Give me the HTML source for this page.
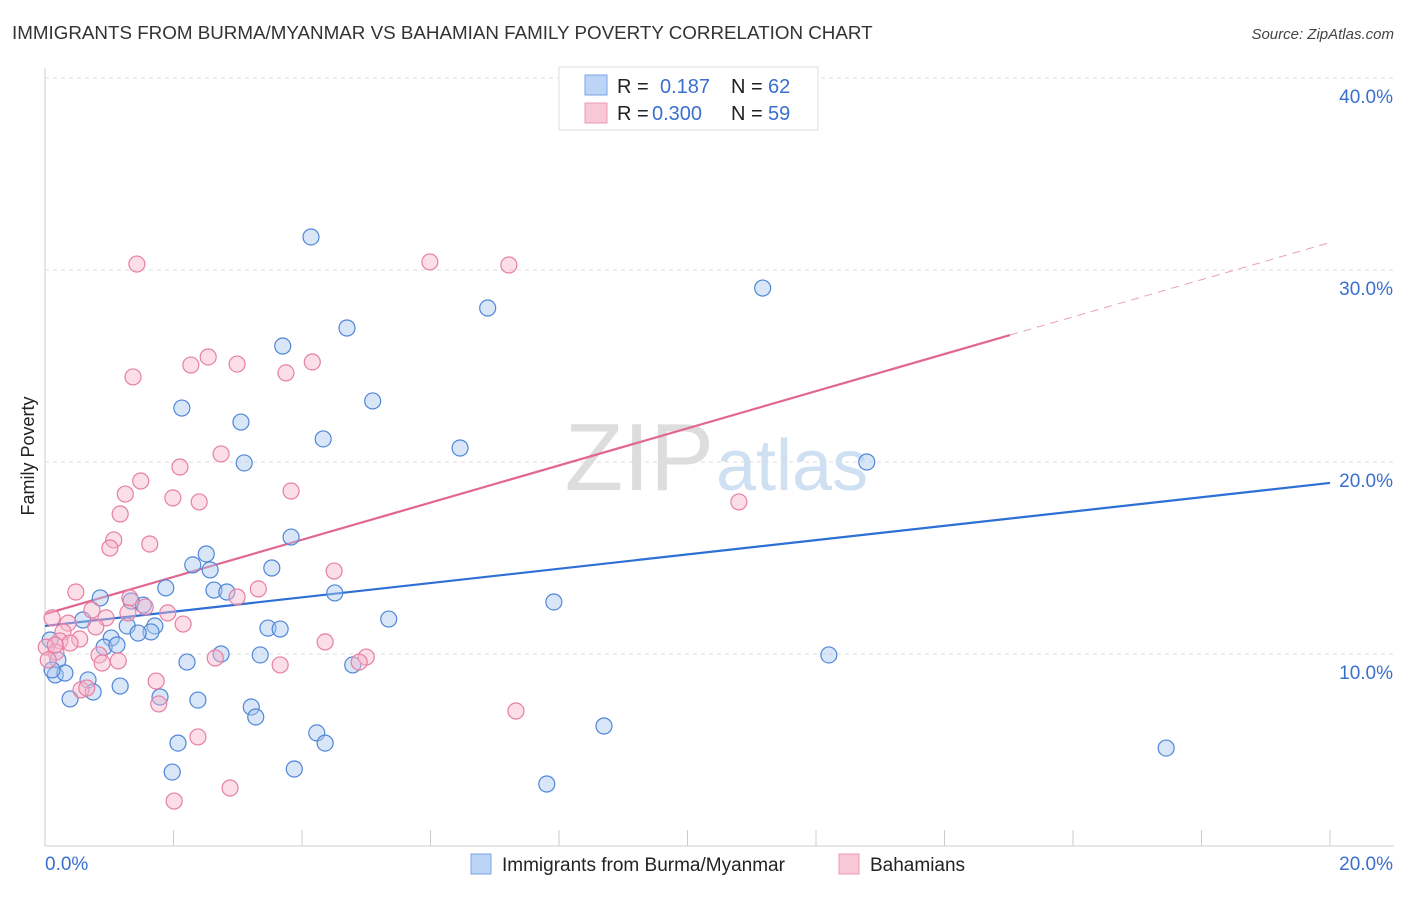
<!DOCTYPE html>
<html><head><meta charset="utf-8"><style>
body{margin:0;background:#fff;font-family:"Liberation Sans",sans-serif}
svg text{font-family:"Liberation Sans",sans-serif}
</style></head><body>
<svg id="chart" width="1406" height="892" xmlns="http://www.w3.org/2000/svg">
<text x="12" y="39" font-size="18.8" fill="#333">IMMIGRANTS FROM BURMA/MYANMAR VS BAHAMIAN FAMILY POVERTY CORRELATION CHART</text>
<text x="1394" y="39" font-size="15" fill="#444" text-anchor="end" font-style="italic">Source: ZipAtlas.com</text>
<text x="34" y="456" font-size="18" fill="#222" text-anchor="middle" transform="rotate(-90 34 456)">Family Poverty</text>
<text x="714" y="490" font-size="96" fill="#ddd" text-anchor="end" font-family="Liberation Serif">ZIP</text>
<text x="716" y="490" font-size="72" fill="#cfe0f3">atlas</text>
<g id="grid"></g><g id="axes"></g><g id="lines"></g><g id="pts"></g>
<g>
<rect x="559" y="67" width="259" height="63" fill="#fff" stroke="#ddd"/>
<rect x="585" y="75" width="22" height="20" fill="#bcd4f5" stroke="#7aa6e6"/>
<rect x="585" y="103" width="22" height="20" fill="#f9c8d6" stroke="#ee99b4"/>
<text x="617" y="93" font-size="20" fill="#222">R =</text><text x="660" y="93" font-size="20" fill="#3a6fcf">0.187</text>
<text x="731" y="93" font-size="20" fill="#222">N =</text><text x="768" y="93" font-size="20" fill="#3a6fcf">62</text>
<text x="617" y="120" font-size="20" fill="#222">R =</text><text x="652" y="120" font-size="20" fill="#3a6fcf">0.300</text>
<text x="731" y="120" font-size="20" fill="#222">N =</text><text x="768" y="120" font-size="20" fill="#3a6fcf">59</text>
</g>
<g>
<rect x="471" y="854" width="20" height="20" fill="#bcd4f5" stroke="#7aa6e6"/>
<text x="502" y="871" font-size="19" fill="#222">Immigrants from Burma/Myanmar</text>
<rect x="839" y="854" width="20" height="20" fill="#f9c8d6" stroke="#ee99b4"/>
<text x="870" y="871" font-size="19" fill="#222">Bahamians</text>
</g>
</svg>
<script>
const blueX=[4.14,4.70,6.89,11.17,3.70,5.10,2.13,3.05,4.33,6.46,3.10,12.79,3.83,2.51,2.30,2.57,3.53,1.88,2.63,2.83,4.51,1.53,0.86,1.34,7.92,5.35,0.59,1.28,1.71,1.65,1.45,3.47,3.66,1.03,0.92,1.12,0.08,2.74,3.35,2.21,4.79,12.20,0.20,0.16,0.31,0.67,1.17,0.75,0.39,1.79,2.38,3.21,3.28,8.70,4.23,4.36,2.07,17.45,1.98,3.88,7.81,0.11];
const blueY=[31.72,26.98,28.02,29.06,26.04,23.18,22.81,22.08,21.20,20.73,19.95,20.0,16.09,15.21,14.64,14.38,14.48,13.44,13.33,13.23,13.18,12.55,12.92,12.76,12.71,11.82,11.77,11.46,11.46,11.15,11.09,11.35,11.30,10.83,10.36,10.47,10.73,10.0,9.95,9.58,9.43,9.95,9.69,8.91,9.01,8.65,8.33,8.02,7.66,7.76,7.60,7.24,6.72,6.25,5.89,5.36,5.36,5.10,3.85,4.01,3.23,9.17];
const pinkX=[1.43,5.99,7.22,2.54,2.27,2.99,4.16,3.75,1.37,2.74,2.10,1.49,3.83,1.25,1.99,2.40,1.17,10.80,1.07,1.01,1.63,4.50,0.48,3.32,2.99,1.32,1.56,0.73,1.29,1.91,0.95,2.15,0.11,0.36,0.79,0.28,0.54,0.23,4.36,0.02,0.17,5.00,4.89,0.84,1.14,0.89,2.65,3.66,1.73,0.56,0.65,1.77,7.33,2.38,2.88,2.01,0.39,0.16,0.05];
const pinkY=[30.31,30.42,30.26,25.47,25.05,25.10,25.21,24.64,24.43,20.42,19.74,19.01,18.49,18.33,18.13,17.92,17.29,17.92,15.94,15.52,15.73,14.32,13.23,13.39,12.97,12.92,12.45,12.29,12.14,12.14,11.88,11.56,11.88,11.61,11.41,11.15,10.78,10.68,10.63,10.36,10.10,9.84,9.58,9.95,9.64,9.53,9.79,9.43,8.59,8.13,8.23,7.40,7.03,5.68,3.02,2.34,10.57,10.47,9.69];
const yTicks=[10,20,30,40];
const yTickLabels=["10.0%","20.0%","30.0%","40.0%"];
const blueTrend=[11.46,18.91];
const pinkTrend=[12.08,31.43];
const pinkSolidEnd=15.02;
const NS="http://www.w3.org/2000/svg";
const sx=v=>45+v/20*1285, sy=v=>846-v*19.2;
function mk(t,a,p){const e=document.createElementNS(NS,t);for(const k in a)e.setAttribute(k,a[k]);p.appendChild(e);return e;}
const grid=document.getElementById('grid'),axes=document.getElementById('axes'),lines=document.getElementById('lines'),pts=document.getElementById('pts');
yTicks.forEach((v,i)=>{
 const l=mk('line',{x1:45,x2:1394,y1:sy(v),y2:sy(v),stroke:'#ddd','stroke-dasharray':'4 4'},grid);
 
 
 const t=mk('text',{x:1393,y:sy(v)+25,'font-size':19,fill:'#3a6fcf','text-anchor':'end'},axes);
 t.textContent=yTickLabels[i];
 
 
});
let a=mk('line',{x1:45,x2:1394,y1:846,y2:846,stroke:'#ccc'},axes);


a=mk('line',{x1:45,x2:45,y1:68,y2:846,stroke:'#ccc'},axes);


for(let i=0;i<=10;i++){const t=mk('line',{x1:sx(i*2),x2:sx(i*2),y1:830,y2:846,stroke:'#ccc'},axes);
 
 }
let xl=mk('text',{x:45,y:870,'font-size':19,fill:'#3a6fcf'},axes);xl.textContent='0.0%';


xl=mk('text',{x:1393,y:870,'font-size':19,fill:'#3a6fcf','text-anchor':'end'},axes);xl.textContent='20.0%';


function dots(X,Y,fill,stroke,name){X.forEach((x,i)=>{const c=mk('circle',{cx:sx(x),cy:sy(Y[i]),r:8,fill:fill,'fill-opacity':0.45,stroke:stroke,'stroke-width':1.2},pts);
 
 });}
dots(blueX,blueY,'#a9c8f0','#4f86d8','burma-point');
dots(pinkX,pinkY,'#f6b6ca','#e77fa2','bahamian-point');
let ln=mk('line',{x1:sx(0),y1:sy(blueTrend[0]),x2:sx(20),y2:sy(blueTrend[1]),stroke:'#2e6fd6','stroke-width':2.2},lines);


const pe=pinkTrend[0]+(pinkTrend[1]-pinkTrend[0])*pinkSolidEnd/20;
ln=mk('line',{x1:sx(0),y1:sy(pinkTrend[0]),x2:sx(pinkSolidEnd),y2:sy(pe),stroke:'#e26690','stroke-width':2.2},lines);


ln=mk('line',{x1:sx(pinkSolidEnd),y1:sy(pe),x2:sx(20),y2:sy(pinkTrend[1]),stroke:'#e9a0b8','stroke-width':1,'stroke-dasharray':'8 6'},lines);


</script>
</body></html>
